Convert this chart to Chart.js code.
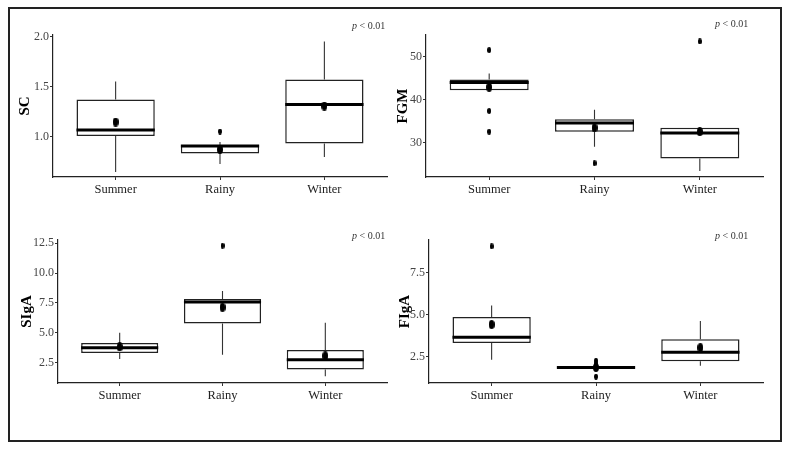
<!DOCTYPE html>
<html>
<head>
<meta charset="utf-8">
<script src="https://cdn.jsdelivr.net/npm/chart.js@4.4.0/dist/chart.umd.min.js"></script>
<style>
  body { margin: 0; background: #fff; width: 790px; height: 449px; position: relative; overflow: hidden; }
  .frame { position: absolute; left: 8px; top: 7px; width: 774px; height: 435px; border: 2px solid #222; box-sizing: border-box; }
  canvas { position: absolute; }
  .pval { position: absolute; font: 10px "Liberation Serif", serif; color: #333; white-space: nowrap; }
</style>
</head>
<body>
<div class="frame"></div>
<canvas id="scChart"></canvas>
<canvas id="fgmChart"></canvas>
<canvas id="sigaChart"></canvas>
<canvas id="figaChart"></canvas>
<div class="pval" style="left:352px;top:20px"><i>p</i> &lt; 0.01</div>
<div class="pval" style="left:715px;top:18px"><i>p</i> &lt; 0.01</div>
<div class="pval" style="left:352px;top:230px"><i>p</i> &lt; 0.01</div>
<div class="pval" style="left:715px;top:230px"><i>p</i> &lt; 0.01</div>
<script>
const seasons = ['Summer', 'Rainy', 'Winter'];

// SC
const scLow = [0.65, 0.73, 0.80];
const scQ1 = [1.01, 0.835, 0.935];
const scMedian = [1.07, 0.91, 1.325];
const scQ3 = [1.375, 0.92, 1.575];
const scHigh = [1.555, 0.95, 1.955];
const scMean = [1.15, 0.875, 1.31];
const scOutliers = [[], [1.055], []];
const scTicks = [1.0, 1.5, 2.0];

// FGM
const fgmLow = [42.2, 29.1, 23.5];
const fgmQ1 = [42.2, 32.6, 26.4];
const fgmMedian = [44.0, 34.6, 32.3];
const fgmQ3 = [44.7, 35.5, 33.5];
const fgmHigh = [46.1, 37.7, 33.5];
const fgmMean = [42.9, 33.5, 32.6];
const fgmOutliers = [[51.5, 37.4, 32.6], [25.3], [53.5]];
const fgmTicks = [30, 40, 50];

// SIgA
const sigaLow = [2.78, 3.15, 1.33];
const sigaQ1 = [3.29, 5.76, 1.91];
const sigaMedian = [3.73, 7.58, 2.72];
const sigaQ3 = [4.12, 7.83, 3.55];
const sigaHigh = [5.0, 8.5, 5.84];
const sigaMean = [3.8, 7.13, 3.05];
const sigaOutliers = [[], [12.3], []];
const sigaTicks = [2.5, 5.0, 7.5, 10.0, 12.5];

// FIgA
const figaLow = [2.3, 1.78, 1.95];
const figaQ1 = [3.31, 1.78, 2.21];
const figaMedian = [3.65, 1.85, 2.76];
const figaQ3 = [4.86, 1.92, 3.53];
const figaHigh = [5.54, 1.92, 4.62];
const figaMean = [4.41, 1.85, 3.03];
const figaOutliers = [[9.07], [2.25, 2.08, 1.3], []];
const figaTicks = [2.5, 5.0, 7.5];

// little ellipse sprites, the dots in the original are taller than wide
function dot(w, h) {
  const c = document.createElement('canvas');
  c.width = w; c.height = h;
  const g = c.getContext('2d');
  g.fillStyle = '#000';
  g.beginPath();
  g.ellipse(w / 2, h / 2, w / 2, h / 2, 0, 0, Math.PI * 2);
  g.fill();
  return c;
}
const meanDot = dot(6, 9);
const outDot = dot(4, 6);

const serif = '"Liberation Serif", "Times New Roman", serif';
const HALF = 0.375; // half box width in category units

function boxChart(id, title, s, yMin, yMax, yTicks, digits, area, canvasLeft) {
  const el = document.getElementById(id);
  const padTop = 10, xAxisH = 40;
  el.width = area.r - canvasLeft + 1;
  el.height = area.b - area.t + padTop + xAxisH;
  el.style.left = canvasLeft + 'px';
  el.style.top = (area.t - padTop) + 'px';
  const yAxisW = area.l - canvasLeft;

  const whiskers = seasons.flatMap((n, i) => [
    { x: i + 1, y: s.low[i] }, { x: i + 1, y: s.q1[i] }, { x: i + 1, y: null },
    { x: i + 1, y: s.q3[i] }, { x: i + 1, y: s.high[i] }, { x: i + 1, y: null }
  ]);
  const boxes = seasons.map((n, i) => ({ x: i + 1, y: [s.q1[i], s.q3[i]] }));
  const medians = seasons.flatMap((n, i) => [
    { x: i + 1 - HALF, y: s.med[i] }, { x: i + 1 + HALF, y: s.med[i] }, { x: i + 1, y: null }
  ]);
  const means = seasons.map((n, i) => ({ x: i + 1, y: s.mean[i] }));
  const outs = s.out.flatMap((arr, i) => arr.map(v => ({ x: i + 1, y: v })));

  return new Chart(el, {
    type: 'bar',
    data: {
      datasets: [
        { type: 'line', data: whiskers, borderColor: '#333', borderWidth: 1.1, pointRadius: 0, spanGaps: false, order: 4 },
        { type: 'bar', data: boxes, backgroundColor: '#fff', borderColor: '#222', borderWidth: 1.5,
          borderSkipped: false, barPercentage: 0.75, categoryPercentage: 1, order: 3 },
        { type: 'line', data: medians, borderColor: '#000', borderWidth: 3, borderCapStyle: 'butt',
          pointRadius: 0, spanGaps: false, order: 2 },
        { type: 'scatter', data: means, pointStyle: meanDot, pointRadius: 4, order: 1 },
        { type: 'scatter', data: outs, pointStyle: outDot, pointRadius: 3, order: 1 }
      ]
    },
    options: {
      responsive: false,
      animation: false,
      events: [],
      layout: { padding: { top: padTop, right: 1, left: 0, bottom: 0 } },
      plugins: { legend: { display: false }, tooltip: { enabled: false } },
      scales: {
        x: {
          type: 'linear', min: 0.4, max: 3.6, offset: false,
          afterBuildTicks: ax => { ax.ticks = [1, 2, 3].map(v => ({ value: v })); },
          afterFit: ax => { ax.height = xAxisH; },
          grid: { offset: false, drawOnChartArea: false, drawTicks: true, tickLength: 3, color: '#333' },
          border: { display: true, color: '#222', width: 1.2 },
          ticks: { padding: 2, color: '#222', font: { family: serif, size: 12.5 },
            callback: v => seasons[v - 1] || '' }
        },
        y: {
          type: 'linear', min: yMin, max: yMax,
          afterBuildTicks: ax => { ax.ticks = yTicks.map(v => ({ value: v })); },
          afterFit: ax => { ax.width = yAxisW; },
          grid: { drawOnChartArea: false, drawTicks: true, tickLength: 3, color: '#333' },
          border: { display: true, color: '#222', width: 1.2 },
          ticks: { padding: 1, color: '#444', font: { family: serif, size: 12 },
            callback: v => v.toFixed(digits) },
          title: { display: true, text: title, color: '#000',
            font: { family: serif, size: 15, weight: 'bold' }, padding: { top: 4, bottom: 0 } }
        }
      }
    }
  });
}

boxChart('scChart', 'SC',
  { low: scLow, q1: scQ1, med: scMedian, q3: scQ3, high: scHigh, mean: scMean, out: scOutliers },
  0.6, 2.02, scTicks, 1, { l: 53, t: 35, r: 391, b: 177 }, 12);

boxChart('fgmChart', 'FGM',
  { low: fgmLow, q1: fgmQ1, med: fgmMedian, q3: fgmQ3, high: fgmHigh, mean: fgmMean, out: fgmOutliers },
  22.1, 55.0, fgmTicks, 0, { l: 426, t: 35, r: 767, b: 177 }, 390);

boxChart('sigaChart', 'SIgA',
  { low: sigaLow, q1: sigaQ1, med: sigaMedian, q3: sigaQ3, high: sigaHigh, mean: sigaMean, out: sigaOutliers },
  0.77, 12.78, sigaTicks, 1, { l: 58, t: 240, r: 391, b: 383 }, 14);

boxChart('figaChart', 'FIgA',
  { low: figaLow, q1: figaQ1, med: figaMedian, q3: figaQ3, high: figaHigh, mean: figaMean, out: figaOutliers },
  0.92, 9.45, figaTicks, 1, { l: 429, t: 240, r: 767, b: 383 }, 392);
</script>
</body>
</html>
